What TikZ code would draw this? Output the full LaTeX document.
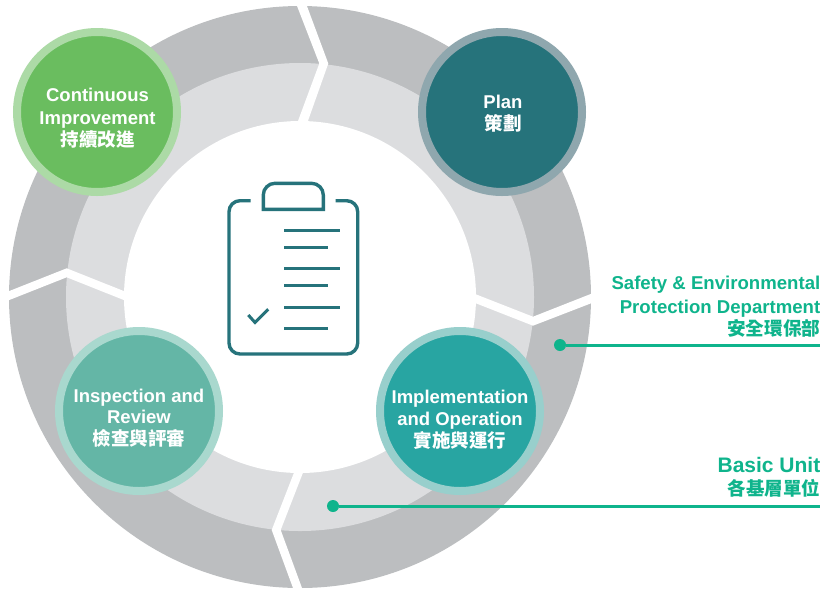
\documentclass[tikz,border=0pt]{standalone}
\usepackage{fontspec}
\setmainfont{Liberation Sans}[BoldFont={Liberation Sans Bold}]
\newfontfamily\cjk{Noto Sans CJK TC Bold}
\definecolor{ringdark}{HTML}{BCBEC0}
\definecolor{ringlight}{HTML}{DCDDDF}
\definecolor{teal}{HTML}{26737B}
\definecolor{tealring}{HTML}{8FA7AE}
\definecolor{grn}{HTML}{6ABD5F}
\definecolor{grnring}{HTML}{ACDAA6}
\definecolor{sea}{HTML}{64B6A6}
\definecolor{searing}{HTML}{A9D8CE}
\definecolor{aqua}{HTML}{28A5A2}
\definecolor{aquaring}{HTML}{98CFCC}
\definecolor{accent}{HTML}{0FB48C}
\tikzset{
  x=1pt,y=-1pt,
  stage/.style={circle,minimum size=160pt,inner sep=0pt,line width=8pt},
  stagetext/.style={align=center,text=white,inner sep=0pt},
  side/.style={anchor=east,align=right,text=accent,inner sep=0pt,font=\bfseries\fontsize{18.6}{22}\selectfont},
  dot/.style={circle,fill=accent,minimum size=12pt,inner sep=0pt},
  leader/.style={draw=accent,line width=3pt},
  gap/.style={fill=white},
  icon/.style={draw=teal,line width=3.4pt},
  iconline/.style={draw=teal,line width=3pt}
}
\begin{document}
\begin{tikzpicture}
\useasboundingbox (0,0) rectangle (832,590);
% rings
\fill[ringdark] (300,297) circle[radius=291];
\fill[ringlight] (300,297) circle[radius=234];
\fill[white] (300,297) circle[radius=176];
% chevron gaps
\fill[gap] (294.7,0) -- (319.3,63.5) -- (296.5,125) -- (306.5,125) -- (328.3,63.5) -- (304.7,0) -- cycle;
\fill[gap] (597,291.5) -- (533,316.7) -- (470,292) -- (470,301) -- (533,325.7) -- (597,301) -- cycle;
\fill[gap] (3,293.5) -- (66.7,268.3) -- (130,293.5) -- (130,302.5) -- (66.7,277.3) -- (3,302.5) -- cycle;
\fill[gap] (295.2,594) -- (271.7,530) -- (295.8,468) -- (304.8,468) -- (280.7,530) -- (304.2,594) -- cycle;
% clipboard icon
\draw[icon,rounded corners=11pt] (250.7,200.7) -- (229,200.7) -- (229,354) -- (357.7,354) -- (357.7,200.7) -- (335.7,200.7);
\draw[icon] (263.3,209.3) [rounded corners=11.7pt] -- (263.3,183.3) -- (323.3,183.3) [sharp corners] -- (323.3,209.3) -- cycle;
\draw[iconline] (284.3,230.3) -- (340.3,230.3);
\draw[iconline] (284.3,247.3) -- (327.7,247.3);
\draw[iconline] (284.3,268.7) -- (340.3,268.7);
\draw[iconline] (284.3,285.7) -- (327.7,285.7);
\draw[iconline] (284.3,307.3) -- (340.3,307.3);
\draw[iconline] (284.3,328.7) -- (327.7,328.7);
\draw[iconline] (248.3,315) -- (255,322.5) -- (268.3,309.3);
% stages
\node[stage,fill=grn,draw=grnring] (improve) at (97,112) {};
\node[stage,fill=teal,draw=tealring] (plan) at (502,112) {};
\node[stage,fill=sea,draw=searing] (review) at (139,411) {};
\node[stage,fill=aqua,draw=aquaring] (operate) at (460,411) {};
\node[stagetext,font=\bfseries\fontsize{18.5}{22}\selectfont] (improvelabel) at (97.5,118) {Continuous\\[1pt]Improvement\\{\cjk 持續改進}};
\node[stagetext,font=\bfseries\fontsize{18.5}{22}\selectfont] (planlabel) at (503,114) {Plan\\{\cjk 策劃}};
\node[stagetext,font=\bfseries\fontsize{18.5}{21.5}\selectfont] (reviewlabel) at (139,418) {Inspection and\\Review\\{\cjk 檢查與評審}};
\node[stagetext,font=\bfseries\fontsize{18.5}{22}\selectfont] (operatelabel) at (460,420) {Implementation\\and Operation\\{\cjk 實施與運行}};
% leaders
\node[dot] (safetydot) at (560,345) {};
\coordinate (safetyend) at (820,345);
\draw[leader] (safetydot) -- (safetyend);
\node[dot] (basicdot) at (333,506) {};
\coordinate (basicend) at (820,506);
\draw[leader] (basicdot) -- (basicend);
\node[side] (safety) at (820.5,307) {Safety \& Environmental\\[2pt]Protection Department\\{\cjk 安全環保部}};
\node[side,font=\bfseries\fontsize{21}{23.5}\selectfont] (basic) at (820.5,477.5) {Basic Unit\\{\cjk\fontsize{18.5}{23}\selectfont 各基層單位}};
\end{tikzpicture}
\end{document}
